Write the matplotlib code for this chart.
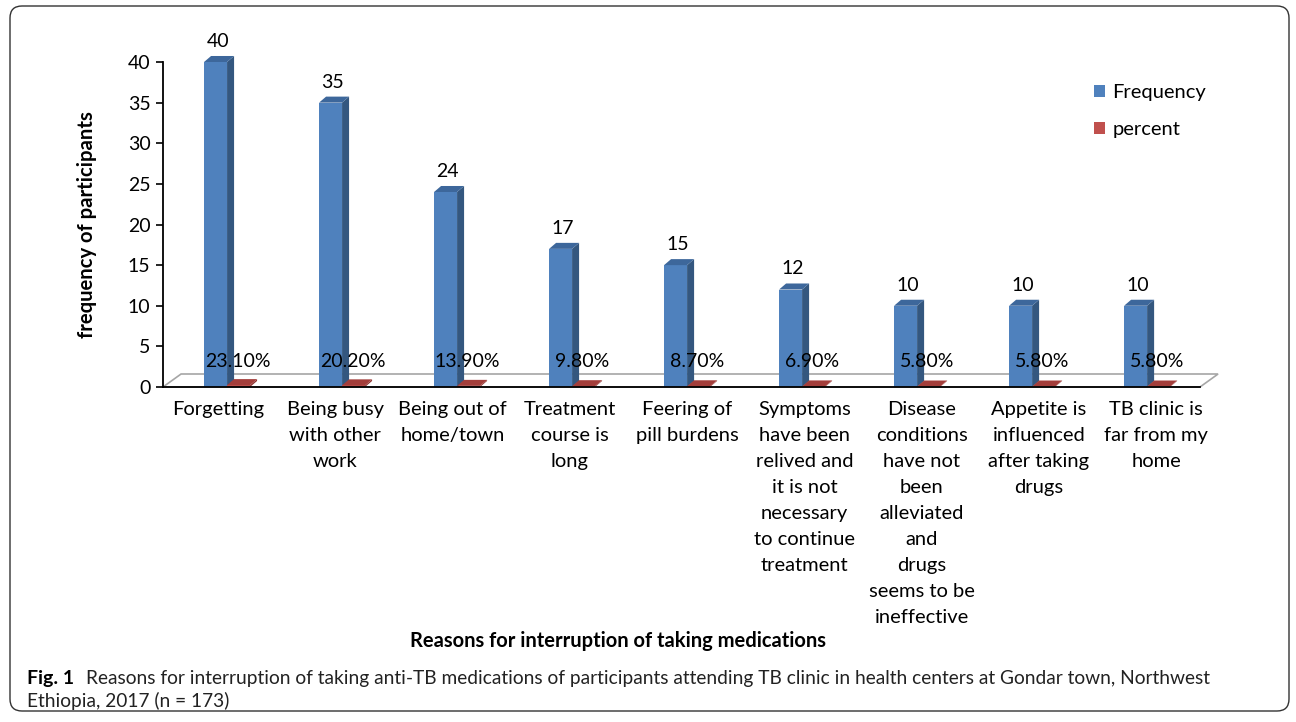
import numpy as np
import matplotlib
matplotlib.use("Agg")
import matplotlib.pyplot as plt
from matplotlib.patches import Rectangle, Polygon, Patch, FancyBboxPatch

# ---- data ----
categories = [
    "Forgetting",
    "Being busy\nwith other\nwork",
    "Being out of\nhome/town",
    "Treatment\ncourse is\nlong",
    "Feering of\npill burdens",
    "Symptoms\nhave been\nrelived and\nit is not\nnecessary\nto continue\ntreatment",
    "Disease\nconditions\nhave not\nbeen\nalleviated\nand\ndrugs\nseems to be\nineffective",
    "Appetite is\ninfluenced\nafter taking\ndrugs",
    "TB clinic is\nfar from my\nhome",
]
frequency = [40, 35, 24, 17, 15, 12, 10, 10, 10]
percent = [23.1, 20.2, 13.9, 9.8, 8.7, 6.9, 5.8, 5.8, 5.8]
y_ticks = [0, 5, 10, 15, 20, 25, 30, 35, 40]

# colours (Excel 2007 default palette)
BLUE = "#4F81BD"
BLUE_SIDE = "#34577F"
BLUE_TOP = "#3D679B"
RED = "#C0504D"
RED_SIDE = "#8E3330"
RED_TOP = "#A33E3B"

plt.rcParams["font.family"] = ["Lato", "DejaVu Sans"]

W, H = 1296, 722
fig = plt.figure(figsize=(W / 100, H / 100), dpi=100)

x_left, x_right = -0.557, 8.46
ax = fig.add_axes([163 / W, 1 - 387 / H, (1200 - 163) / W, (387 - 62) / H])
ax.set_xlim(x_left, x_right)
ax.set_ylim(0, 40)

bw = 0.2     # bar width (category units)
ddx = 0.061  # depth offset in x
ddy = 0.74   # depth offset in y


def bar3d(ax, x, h, front, side, top):
    ax.add_patch(Rectangle((x, 0), bw, h, fc=front, ec="none", zorder=3, clip_on=False))
    ax.add_patch(Polygon([(x + bw, 0), (x + bw + ddx, ddy), (x + bw + ddx, h + ddy),
                          (x + bw, h)], fc=side, ec="none", zorder=3, clip_on=False))
    ax.add_patch(Polygon([(x, h), (x + bw, h), (x + bw + ddx, h + ddy), (x + ddx, h + ddy)],
                         fc=top, ec="none", zorder=3, clip_on=False))


# floor of the 3-D chart
fdx, fdy = 0.157, 1.6
ax.add_patch(Polygon([(x_left, 0), (x_left + fdx, fdy), (x_right + fdx, fdy), (x_right, 0)],
                     closed=True, fc="white", ec="#A6A6A6", lw=1.2, zorder=1, clip_on=False))

for i, (f, p) in enumerate(zip(frequency, percent)):
    bar3d(ax, i - bw, f, BLUE, BLUE_SIDE, BLUE_TOP)
    bar3d(ax, i, p / 100, RED, RED_SIDE, RED_TOP)
    ax.text(i - bw / 2 + 0.02, f + 1.85, f"{f}", ha="center", va="baseline",
            fontsize=14, zorder=5)
    ax.text(i + 0.09, 2.45, f"{p:.2f}%", ha="center", va="baseline",
            fontsize=14, zorder=5)

for s in ["top", "right"]:
    ax.spines[s].set_visible(False)
ax.spines["left"].set_linewidth(1.3)
ax.spines["bottom"].set_linewidth(1.3)
ax.spines["left"].set_zorder(6)
ax.spines["bottom"].set_zorder(6)

ax.set_yticks(y_ticks)
ax.tick_params(axis="y", labelsize=14, length=5, width=1.2, pad=4)

label_pos = np.arange(len(categories)) * 1.0196 - 0.078
ax.set_xticks(label_pos)
ax.set_xticklabels(categories, fontsize=14.5, linespacing=1.64)
ax.tick_params(axis="x", length=0, pad=10)

ax.set_ylabel("frequency of participants", fontsize=14.6, fontweight="bold")
ax.yaxis.set_label_coords(-0.0636, 0.5)

fig.text(618 / W, 1 - 641 / H, "Reasons for interruption of taking medications",
         ha="center", va="center", fontsize=14.5, fontweight="bold")

handles = [Patch(fc=BLUE, ec="none"), Patch(fc=RED, ec="none")]
fig.legend(handles, ["Frequency", "percent"], loc="upper left",
           bbox_to_anchor=(1076 / W, 1 - 66 / H), frameon=False, fontsize=14.5,
           handlelength=0.55, handleheight=0.55, handletextpad=0.35, labelspacing=1.0)

# caption
fig.text(27 / W, 1 - 684 / H, "Fig. 1", fontsize=14, fontweight="bold", va="baseline")
fig.text(86 / W, 1 - 684 / H,
         "Reasons for interruption of taking anti-TB medications of participants attending "
         "TB clinic in health centers at Gondar town, Northwest",
         fontsize=13.8, va="baseline", color="#222222")
fig.text(27 / W, 1 - 707 / H, "Ethiopia, 2017 (n = 173)", fontsize=13.8, va="baseline",
         color="#222222")

# rounded frame
fig.add_artist(FancyBboxPatch((10, 11), 1279, 705, boxstyle="round,pad=0,rounding_size=12",
                              transform=None, fc="none", ec="#333333", lw=1.0))

fig.savefig("out.png", dpi=100)
